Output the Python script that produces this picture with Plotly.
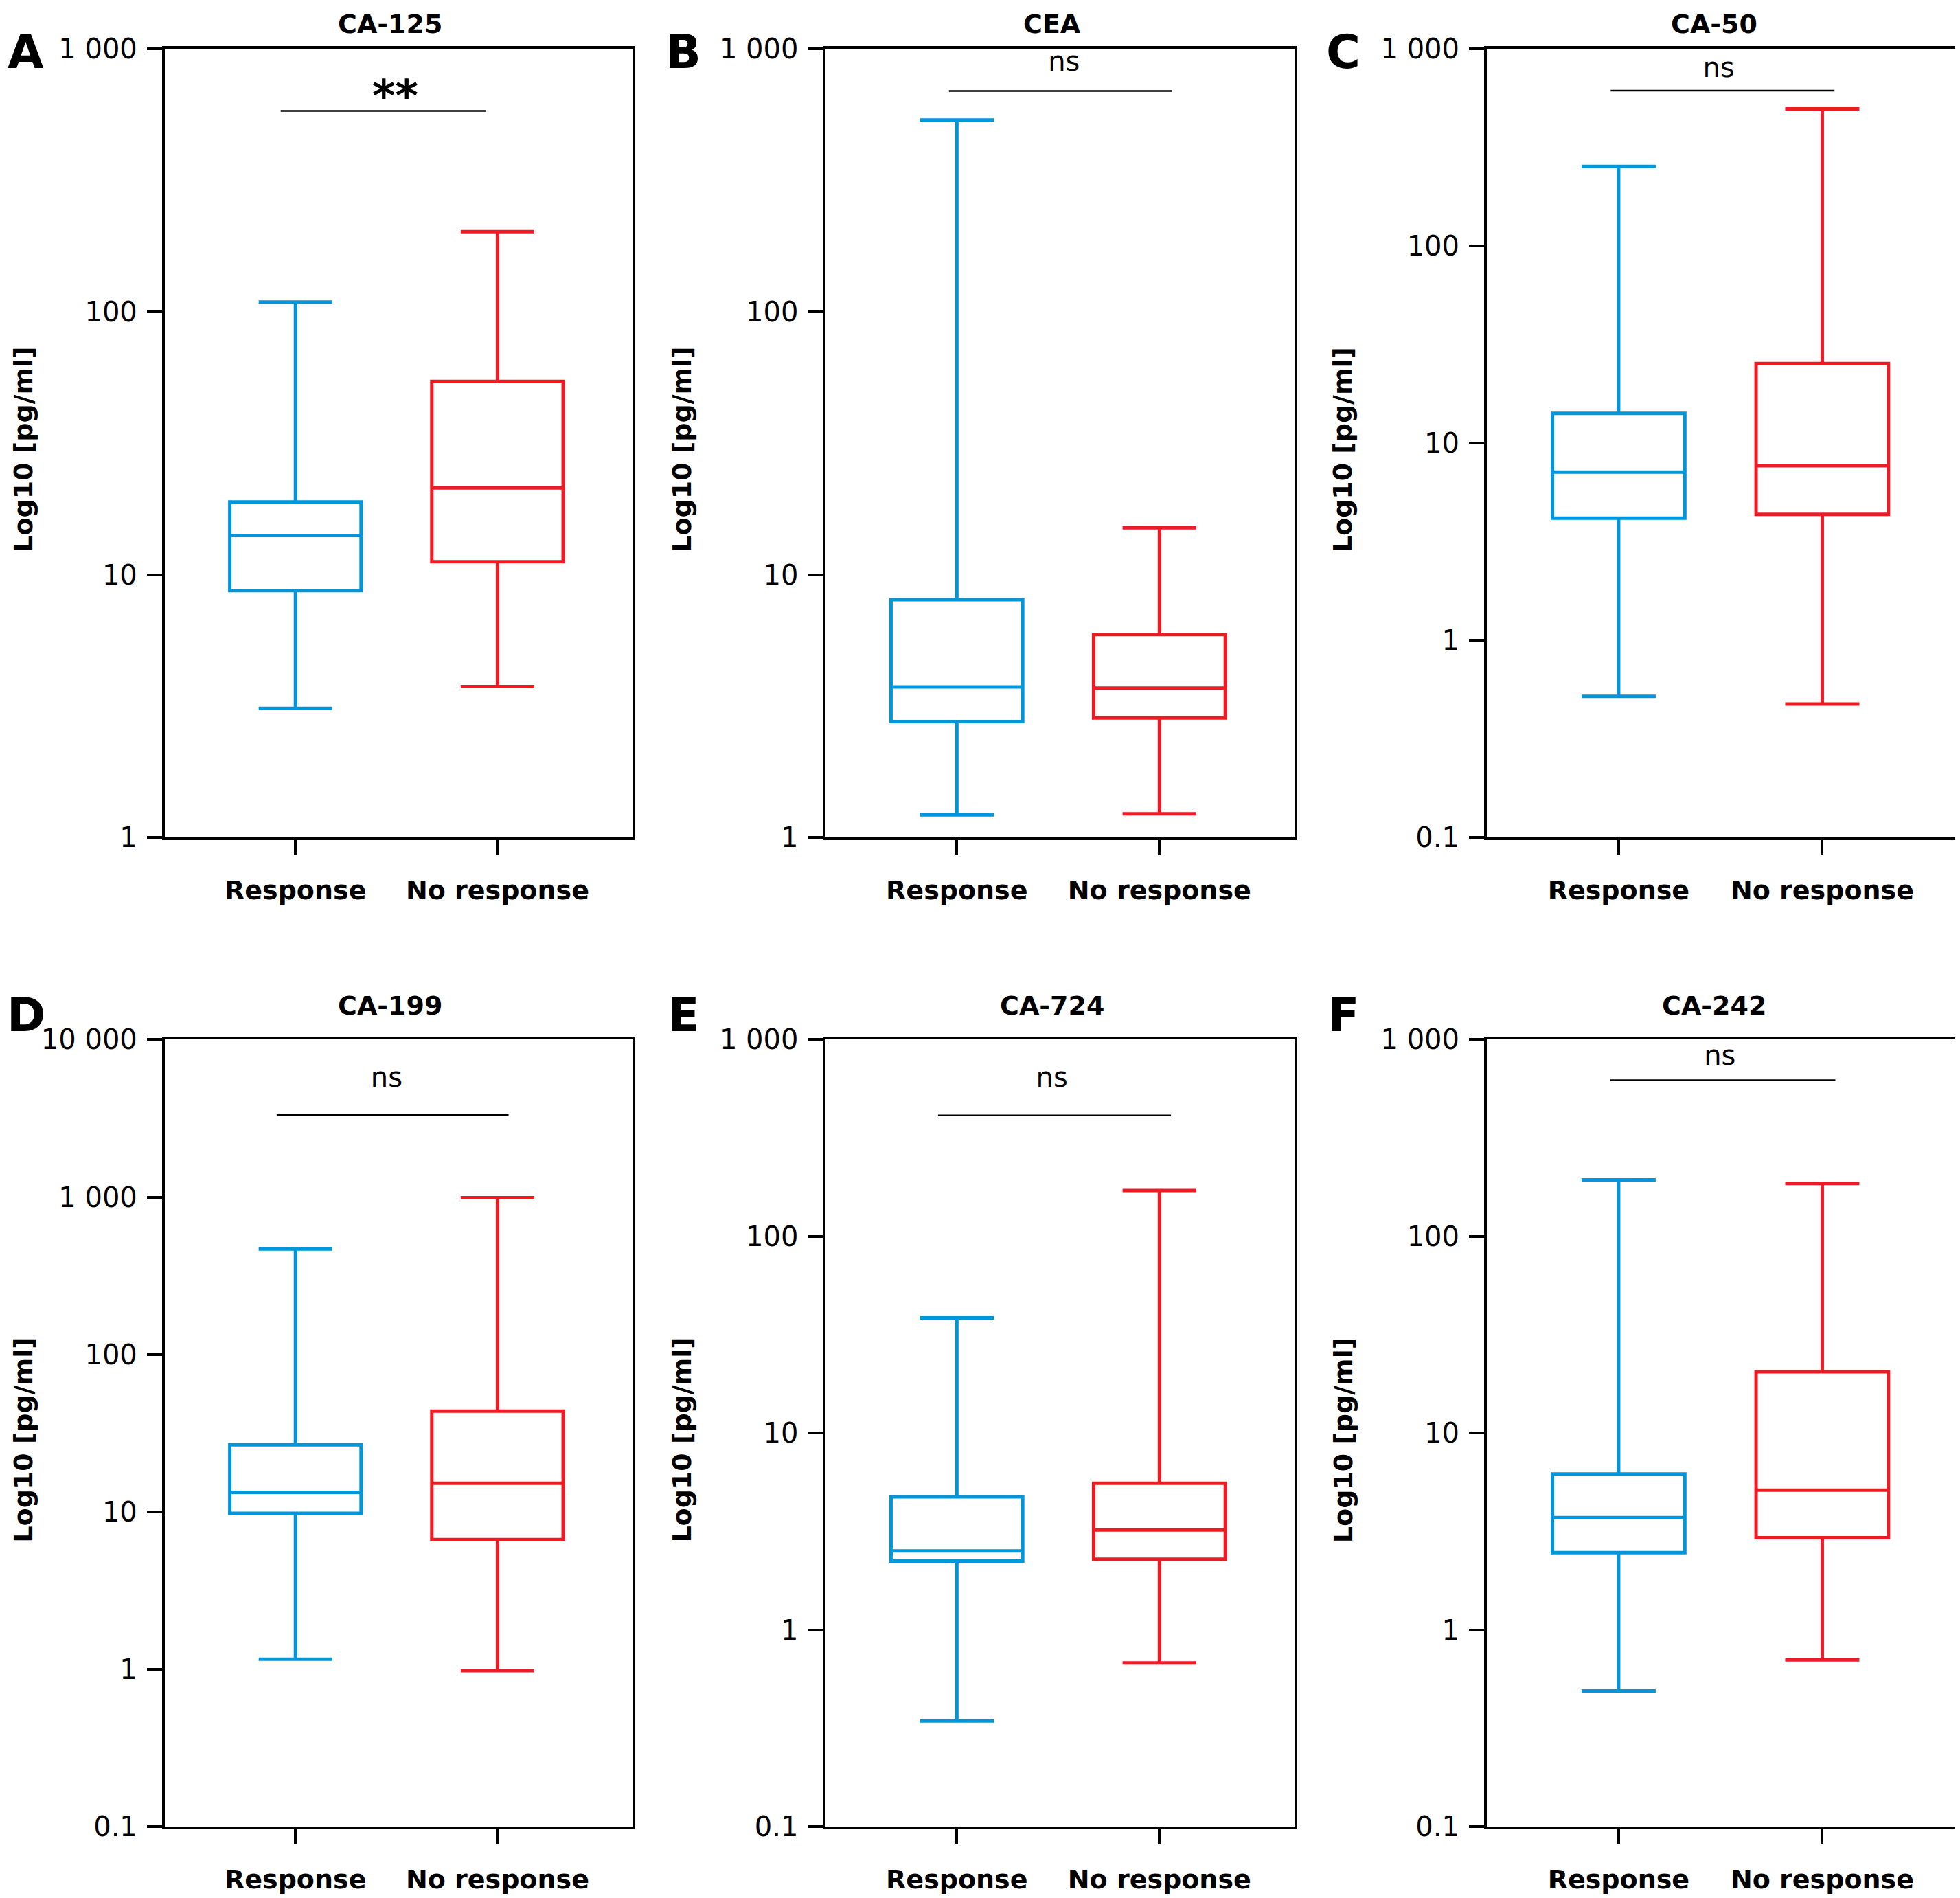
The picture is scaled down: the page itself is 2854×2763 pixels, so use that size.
import math
import plotly.graph_objects as go

# six panels: letter, marker name
letters = ['A', 'B', 'C', 'D', 'E', 'F']
markers = ['CA-125', 'CEA', 'CA-50', 'CA-199', 'CA-724', 'CA-242']
groups = ['Response', 'No response']

# box stats per panel, [Response, No response]
lower = [[3.10, 3.75], [1.22, 1.23], [0.52, 0.475], [1.16, 0.98], [0.345, 0.68], [0.49, 0.705]]
q1 = [[8.70, 11.2], [2.76, 2.85], [4.17, 4.36], [9.78, 6.67], [2.24, 2.29], [2.47, 2.94]]
median = [[14.1, 21.4], [3.74, 3.70], [7.15, 7.69], [13.3, 15.2], [2.52, 3.22], [3.72, 5.13]]
q3 = [[18.9, 54.4], [8.04, 5.92], [14.2, 25.4], [26.7, 43.7], [4.75, 5.57], [6.2, 20.5]]
upper = [[109, 202], [537, 15.1], [254, 497], [468, 990], [38.5, 171], [194, 186]]

# significance bars
sig_label = ['**', 'ns', 'ns', 'ns', 'ns', 'ns']
sig_level = [582, 693, 615, 3320, 412, 622]
sig_text_level = [640, 877, 784, 5540, 622, 808]
sig_x0 = [-0.073, -0.039, -0.039, -0.093, -0.093, -0.041]
sig_x1 = [0.944, 1.062, 1.060, 1.055, 1.057, 1.064]
sig_text_x = [0.494, 0.529, 0.491, 0.451, 0.469, 0.497]

# y axes
y_ticks = [
    [1, 10, 100, 1000],
    [1, 10, 100, 1000],
    [0.1, 1, 10, 100, 1000],
    [0.1, 1, 10, 100, 1000, 10000],
    [0.1, 1, 10, 100, 1000],
    [0.1, 1, 10, 100, 1000],
]
y_ticktext = [
    ['1', '10', '100', '1 000'],
    ['1', '10', '100', '1 000'],
    ['0.1', '1', '10', '100', '1 000'],
    ['0.1', '1', '10', '100', '1 000', '10 000'],
    ['0.1', '1', '10', '100', '1 000'],
    ['0.1', '1', '10', '100', '1 000'],
]

colors = ['rgb(0,150,219)', 'rgb(237,28,36)']
FONT = 'DejaVu Sans'
W, H = 2854, 2763


# positions measured on a 1568 px wide view, converted to paper fractions
def px(d):
    return min((d - 2.5) / 0.5506 / W, 0.9995)


def py(d):
    return 1 - (d - 14.7) / 0.5415 / H


col_d = [(130, 505), (660, 1036), (1190, 1568)]
row_d = [(37, 669), (831, 1462)]
letter_x = [19, 546, 1075]
title_y = [17, 804]
ytitle_x = [17, 545, 1075]
ytitle_y = [358, 1152]

fig = go.Figure()

for k in range(6):
    ax = str(k + 1)
    for j in range(2):
        fig.add_trace(go.Box(
            x=[j],
            q1=[q1[k][j]], median=[median[k][j]], q3=[q3[k][j]],
            lowerfence=[lower[k][j]], upperfence=[upper[k][j]],
            width=0.65, whiskerwidth=0.56,
            line=dict(color=colors[j], width=5),
            fillcolor='rgba(0,0,0,0)',
            boxpoints=False,
            hoverinfo='skip',
            showlegend=False,
            xaxis='x' + ax, yaxis='y' + ax,
        ))
    fig.add_trace(go.Scatter(
        x=[sig_x0[k], sig_x1[k]], y=[sig_level[k], sig_level[k]],
        mode='lines', line=dict(color='black', width=2.5),
        hoverinfo='skip', showlegend=False,
        xaxis='x' + ax, yaxis='y' + ax,
    ))
    big = sig_label[k] == '**'
    fig.add_trace(go.Scatter(
        x=[sig_text_x[k]], y=[sig_text_level[k]],
        mode='text', text=[sig_label[k]],
        textfont=dict(family=FONT, size=64 if big else 40, color='black',
                      weight='bold' if big else 'normal'),
        hoverinfo='skip', showlegend=False,
        xaxis='x' + ax, yaxis='y' + ax,
    ))

layout = dict(
    width=W, height=H,
    margin=dict(l=0, r=0, t=0, b=0),
    paper_bgcolor='white', plot_bgcolor='white',
    showlegend=False,
)

annotations = []
for k in range(6):
    r, c = divmod(k, 3)
    ax = '' if k == 0 else str(k + 1)
    lo = math.log10(y_ticks[k][0])
    hi = math.log10(y_ticks[k][-1])
    layout['xaxis' + ax] = dict(
        domain=[px(col_d[c][0]), px(col_d[c][1])], anchor='y' + str(k + 1),
        range=[-0.648, 1.667], tickvals=[0, 1], ticktext=groups,
        showline=True, mirror=True, linecolor='black', linewidth=3.5,
        ticks='outside', ticklen=22, tickwidth=3.5, tickcolor='black',
        ticklabelstandoff=18,
        showgrid=False, zeroline=False, fixedrange=True,
        tickfont=dict(family=FONT, size=38, color='black', weight=600),
    )
    layout['yaxis' + ax] = dict(
        domain=[py(row_d[r][1]), py(row_d[r][0])], anchor='x' + str(k + 1),
        type='log', range=[lo, hi],
        tickvals=y_ticks[k], ticktext=y_ticktext[k],
        showline=True, mirror=True, linecolor='black', linewidth=3.5,
        ticks='outside', ticklen=22, tickwidth=3.5, tickcolor='black',
        ticklabelstandoff=6,
        showgrid=False, zeroline=False, fixedrange=True,
        tickfont=dict(family=FONT, size=40, color='black'),
    )
    # panel title
    annotations.append(dict(
        text='<b>' + markers[k] + '</b>', xref='x' + str(k + 1), yref='paper',
        x=0.47, y=py(title_y[r]), showarrow=False,
        xanchor='center', yanchor='middle',
        font=dict(family=FONT, size=38, color='black'),
    ))
    # panel letter (top row pinned to the top edge)
    annotations.append(dict(
        text='<b>' + letters[k] + '</b>', xref='paper', yref='paper',
        x=px(letter_x[c]), y=0.999 if r == 0 else py(811), showarrow=False,
        xanchor='center', yanchor='top' if r == 0 else 'middle',
        font=dict(family=FONT, size=68, color='black'),
    ))
    # y title
    annotations.append(dict(
        text='<b>Log10 [pg/ml]</b>', xref='paper', yref='paper',
        x=px(ytitle_x[c]), y=py(ytitle_y[r]), showarrow=False,
        textangle=-90, xanchor='center', yanchor='middle',
        font=dict(family=FONT, size=38, color='black'),
    ))

layout['annotations'] = annotations
fig.update_layout(**layout)

fig.write_html('out.html')
